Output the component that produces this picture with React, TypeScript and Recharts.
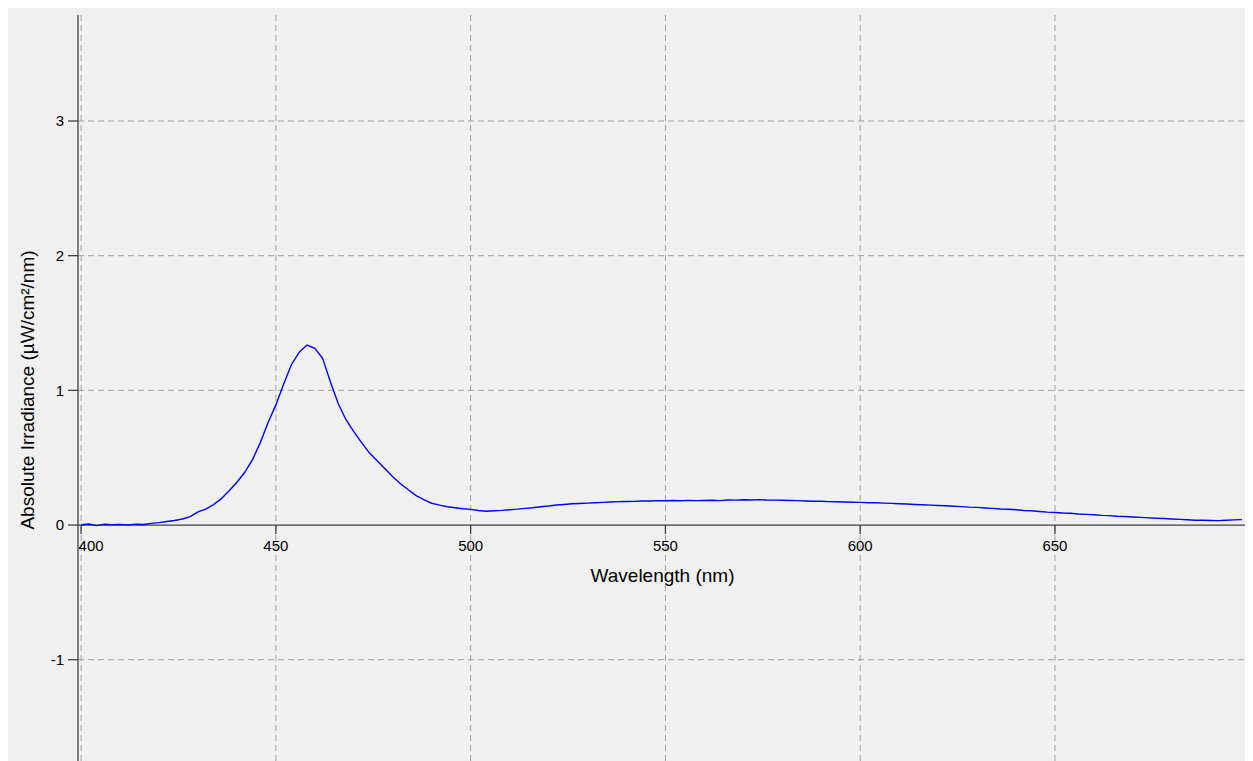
import {
  LineChart,
  Line,
  XAxis,
  YAxis,
  ReferenceLine,
  ReferenceDot,
  Label,
} from "recharts";

// spectrum, every 2 nm
const wavelengthNm = [
  400, 402, 404, 406, 408, 410, 412, 414, 416, 418, 420, 422, 424, 426, 428,
  430, 432, 434, 436, 438, 440, 442, 444, 446, 448, 450, 452, 454, 456, 458,
  460, 462, 464, 466, 468, 470, 472, 474, 476, 478, 480, 482, 484, 486, 488,
  490, 492, 494, 496, 498, 500, 502, 504, 506, 508, 510, 512, 514, 516, 518,
  520, 522, 524, 526, 528, 530, 532, 534, 536, 538, 540, 542, 544, 546, 548,
  550, 552, 554, 556, 558, 560, 562, 564, 566, 568, 570, 572, 574, 576, 578,
  580, 582, 584, 586, 588, 590, 592, 594, 596, 598, 600, 602, 604, 606, 608,
  610, 612, 614, 616, 618, 620, 622, 624, 626, 628, 630, 632, 634, 636, 638,
  640, 642, 644, 646, 648, 650, 652, 654, 656, 658, 660, 662, 664, 666, 668,
  670, 672, 674, 676, 678, 680, 682, 684, 686, 688, 690, 692, 694, 696, 698,
];

const irradiance = [
  0.002, 0.008, -0.004, 0.006, 0.003, 0.005, 0.001, 0.007, 0.004, 0.012, 0.018,
  0.026, 0.034, 0.045, 0.062, 0.098, 0.118, 0.152, 0.196, 0.254, 0.318, 0.392,
  0.486, 0.612, 0.762, 0.892, 1.048, 1.192, 1.284, 1.336, 1.312, 1.238, 1.062,
  0.902, 0.782, 0.694, 0.612, 0.536, 0.478, 0.418, 0.358, 0.306, 0.262, 0.218,
  0.188, 0.162, 0.148, 0.136, 0.128, 0.121, 0.116, 0.108, 0.102, 0.106, 0.109,
  0.114, 0.118, 0.124, 0.128, 0.136, 0.141, 0.149, 0.153, 0.158, 0.16, 0.163,
  0.166, 0.168, 0.171, 0.174, 0.175, 0.176, 0.178, 0.179, 0.181, 0.18, 0.182,
  0.18, 0.183, 0.181, 0.182, 0.184, 0.181, 0.186, 0.185, 0.188, 0.186, 0.189,
  0.186, 0.185, 0.184, 0.182, 0.181, 0.179, 0.177, 0.177, 0.174, 0.173, 0.171,
  0.169, 0.168, 0.166, 0.165, 0.163, 0.161, 0.158, 0.156, 0.153, 0.151, 0.148,
  0.145, 0.143, 0.14, 0.137, 0.133, 0.131, 0.127, 0.124, 0.119, 0.117, 0.113,
  0.108, 0.106, 0.101, 0.096, 0.093, 0.089, 0.087, 0.082, 0.079, 0.076, 0.072,
  0.07, 0.065, 0.063, 0.06, 0.057, 0.053, 0.05, 0.048, 0.045, 0.042, 0.039,
  0.036, 0.035, 0.034, 0.033, 0.036, 0.038, 0.04,
];

const xTicks = [400, 450, 500, 550, 600, 650];
const yTicks = [-1, 0, 1, 2, 3];

const data = wavelengthNm.map((w, i) => ({ w, v: irradiance[i] }));

const AXIS = "#404040";
const GRID = "#a0a0a0";
const FONT = 'Arial, "Liberation Sans", sans-serif';

type TickMarkProps = {
  cx?: number;
  cy?: number;
  label: number;
  first?: boolean;
};

// tick + label hanging under the zero line
function XTickMark({ cx, cy, label, first }: TickMarkProps) {
  if (cx == null || cy == null) return null;
  return (
    <g>
      <line x1={cx} y1={cy} x2={cx} y2={cy + 9} stroke={AXIS} strokeWidth={1.3} />
      <text
        x={first ? cx + 10 : cx}
        y={cy + 26}
        textAnchor="middle"
        fontSize={15}
        fill="#000"
        fontFamily={FONT}
      >
        {label}
      </text>
    </g>
  );
}

export default function App() {
  return (
    <div
      style={{
        marginLeft: -1,
        marginTop: -1,
        width: 1246,
        height: 754,
        background: "#f0f0f0",
        fontFamily: FONT,
      }}
    >
      <LineChart
        width={1246}
        height={754}
        data={data}
        margin={{ top: 8, right: 6, bottom: 0, left: 0 }}
      >
        <XAxis
          type="number"
          dataKey="w"
          domain={[399.2, 699.3]}
          allowDataOverflow
          height={0}
          axisLine={false}
          tickLine={false}
          tick={false}
        />
        <YAxis
          type="number"
          domain={[-1.752, 3.787]}
          allowDataOverflow
          ticks={yTicks}
          interval={0}
          width={71}
          tickSize={10}
          tickMargin={4}
          axisLine={{ stroke: AXIS, strokeWidth: 1.3 }}
          tickLine={{ stroke: AXIS, strokeWidth: 1.3 }}
          tick={{ fill: "#000", fontSize: 15 }}
        >
          <Label
            content={({ viewBox }) => {
              const vb = viewBox as { x: number; y: number; height: number };
              const x = vb.x + 20;
              const y = vb.y + vb.height / 2 + 2;
              return (
                <text
                  x={x}
                  y={y}
                  transform={`rotate(-90 ${x} ${y})`}
                  textAnchor="middle"
                  dominantBaseline="central"
                  fontSize={19}
                  fill="#000"
                >
                  Absolute Irradiance (µW/cm²/nm)
                </text>
              );
            }}
          />
        </YAxis>

        {xTicks.map((t) => (
          <ReferenceLine
            key={`vg-${t}`}
            x={t}
            stroke={GRID}
            strokeDasharray="6 4"
          />
        ))}
        {yTicks
          .filter((t) => t !== 0)
          .map((t) => (
            <ReferenceLine
              key={`hg-${t}`}
              y={t}
              stroke={GRID}
              strokeDasharray="6 4"
            />
          ))}

        <ReferenceLine y={0} stroke={AXIS} strokeWidth={1.3}>
          <Label
            value="Wavelength (nm)"
            position="bottom"
            offset={43}
            fontSize={19}
            fill="#000"
          />
        </ReferenceLine>

        <Line
          type="linear"
          dataKey="v"
          stroke="#0000ff"
          strokeWidth={1.4}
          dot={false}
          isAnimationActive={false}
        />

        {xTicks.map((t, i) => (
          <ReferenceDot
            key={`xt-${t}`}
            x={t}
            y={0}
            ifOverflow="visible"
            shape={(p: { cx?: number; cy?: number }) => (
              <XTickMark cx={p.cx} cy={p.cy} label={t} first={i === 0} />
            )}
          />
        ))}
      </LineChart>
    </div>
  );
}
